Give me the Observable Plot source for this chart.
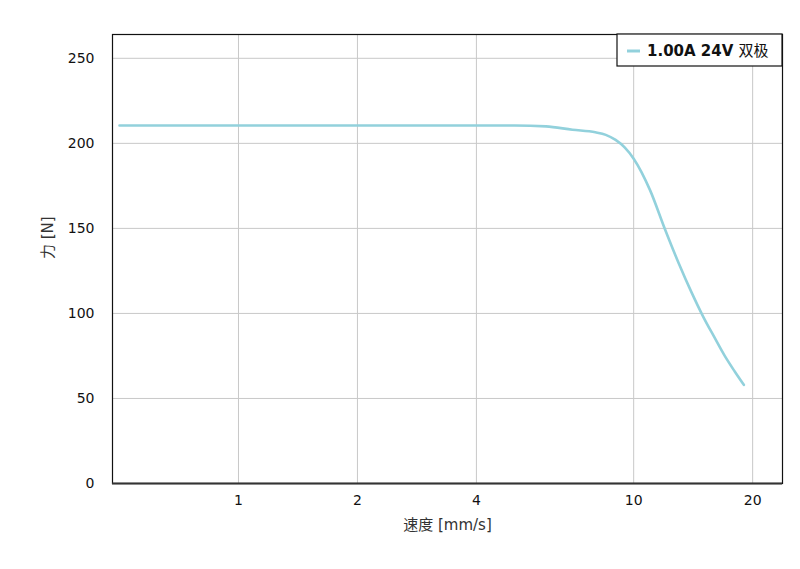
<!DOCTYPE html>
<html>
<head>
<meta charset="utf-8">
<script src="https://cdn.jsdelivr.net/npm/d3@7"></script>
<script src="https://cdn.jsdelivr.net/npm/@observablehq/plot@0.6"></script>
<style>
  body { margin: 0; background: #fff; }
  #chart { position: relative; width: 800px; height: 569px; }
</style>
</head>
<body>
<div id="chart"></div>
<script>
const speed = [0.5, 1, 2, 4, 5, 6, 7, 8, 8.5, 9, 9.5, 10, 11, 12, 13, 14, 15, 16, 17, 18, 19];
const force = [210.5, 210.5, 210.5, 210.5, 210.5, 210, 208, 206.5, 205, 202, 197.5, 191, 172.5, 149.5, 129.5, 112.5, 98, 86, 75, 66, 58];
const xTicks = [1, 2, 4, 10, 20];
const yTicks = [0, 50, 100, 150, 200, 250];
const seriesName = "1.00A 24V";
const seriesSuffix = "双极";
const xLabel = "速度 [mm/s]";
const yLabel = "力 [N]";

const data = speed.map((s, i) => ({speed: s, force: force[i]}));
const font = "'DejaVu Sans', 'Noto Sans CJK SC', sans-serif";
const lineColor = "#92d1dc";

const plot = Plot.plot({
  width: 800,
  height: 569,
  marginLeft: 112,
  marginRight: 18,
  marginTop: 34,
  marginBottom: 86,
  style: {fontFamily: font, fontSize: "14px", color: "#111", background: "#fff"},
  x: {type: "log", domain: [0.48, 23.8], ticks: xTicks, tickFormat: d => String(d), tickSize: 0, tickPadding: 12, label: null},
  y: {domain: [0, 264], ticks: yTicks, tickSize: 0, tickPadding: 18, label: null},
  marks: [
    Plot.gridX(xTicks, {stroke: "#c8c8c8", strokeOpacity: 1, strokeWidth: 1}),
    Plot.gridY(yTicks, {stroke: "#c8c8c8", strokeOpacity: 1, strokeWidth: 1}),
    Plot.frame({stroke: "#111", strokeWidth: 1.2}),
    Plot.ruleY([0], {stroke: "#333", strokeWidth: 2}),
    Plot.axisX(xTicks, {tickSize: 0, tickPadding: 12, tickFormat: d => String(d), label: null, fontSize: 14}),
    Plot.axisY(yTicks, {tickSize: 0, tickPadding: 18, label: null, fontSize: 14}),
    Plot.line(data, {x: "speed", y: "force", stroke: lineColor, strokeWidth: 2.6, curve: "monotone-x"}),
    Plot.text([xLabel], {frameAnchor: "bottom", dy: 46, fontSize: 15, fill: "#333"}),
    Plot.text([yLabel], {frameAnchor: "left", dx: -64, rotate: -90, fontSize: 15, fill: "#333"})
  ]
});

const svg = d3.select(plot);
const lg = svg.append("g").attr("transform", "translate(617,34)");
lg.append("rect").attr("width", 165).attr("height", 32).attr("fill", "#fff").attr("stroke", "#111").attr("stroke-width", 1.2);
lg.append("line").attr("x1", 10).attr("x2", 23).attr("y1", 17).attr("y2", 17).attr("stroke", lineColor).attr("stroke-width", 3);
const t = lg.append("text").attr("x", 30).attr("y", 17).attr("dy", "0.35em").attr("text-anchor", "start")
  .attr("font-family", font).attr("font-size", 15).attr("fill", "#111");
t.append("tspan").attr("font-weight", "bold").text(seriesName + " ");
t.append("tspan").attr("font-weight", "normal").text(seriesSuffix);

document.getElementById("chart").appendChild(plot);
</script>
</body>
</html>
